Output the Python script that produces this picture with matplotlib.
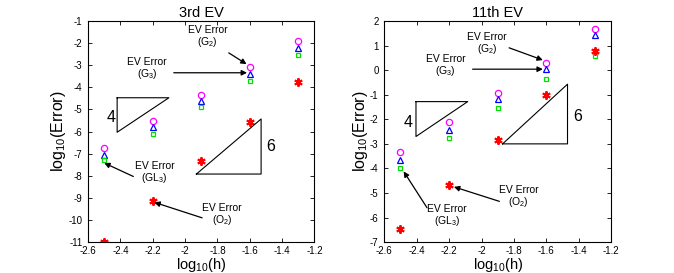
import numpy as np
import matplotlib
matplotlib.use('Agg')
import matplotlib.pyplot as plt

plt.rcParams['font.family'] = ['Liberation Sans', 'DejaVu Sans']
plt.rcParams['mathtext.fontset'] = 'custom'
plt.rcParams['mathtext.rm'] = 'Liberation Sans'
plt.rcParams['mathtext.it'] = 'Liberation Sans'

log_h = [-2.5, -2.2, -1.9, -1.6, -1.3]

# 3rd EV
ev3_g2 = [-6.75, -5.5, -4.35, -3.1, -1.9]
ev3_g3 = [-7.05, -5.8, -4.6, -3.4, -2.2]
ev3_gl3 = [-7.3, -6.1, -4.9, -3.7, -2.55]
ev3_o2 = [-11.0, -9.15, -7.35, -5.55, -3.75]

# 11th EV
ev11_g2 = [-3.35, -2.13, -0.93, 0.31, 1.66]
ev11_g3 = [-3.65, -2.43, -1.19, 0.04, 1.43]
ev11_gl3 = [-3.98, -2.77, -1.55, -0.38, 0.58]
ev11_o2 = [-6.48, -4.66, -2.86, -1.03, 0.78]

ASTER = (6, 2, 0)


def draw_panel(ax, g2, g3, gl3, o2, title, ylim, yticks):
    ax.plot(log_h, g2, 'o', mfc='none', mec='#ff00ff', ms=4.5, mew=0.9)
    ax.plot(log_h, g3, '^', mfc='none', mec='#0000ff', ms=4.5, mew=0.9)
    ax.plot(log_h, gl3, 's', mfc='none', mec='#00e000', ms=3.5, mew=0.9)
    ax.plot(log_h, o2, marker=ASTER, ls='none', mec='#ff0000', ms=6, mew=1.4)
    ax.set_xlim(-2.6, -1.2)
    ax.set_ylim(*ylim)
    ax.set_xticks(np.round(np.arange(-2.6, -1.19, 0.2), 1))
    ax.set_xticklabels(['-2.6', '-2.4', '-2.2', '-2', '-1.8', '-1.6',
                        '-1.4', '-1.2'])
    ax.set_yticks(yticks)
    ax.set_yticklabels([str(t) for t in yticks])
    ax.tick_params(direction='in', top=True, right=True, length=3,
                   width=0.6, labelsize=7, pad=4)
    ax.tick_params(axis='x', pad=2.5)
    for s in ax.spines.values():
        s.set_linewidth(0.8)
    ax.set_title(title, fontsize=10.5, pad=3)
    ax.set_xlabel('log$_{10}$(h)', fontsize=10.5, labelpad=0)
    ax.set_ylabel('log$_{10}$(Error)', fontsize=11.5, labelpad=0)


def note(ax, label, txt_xy, start, end):
    ax.text(txt_xy[0], txt_xy[1], 'EV Error\n(' + label + ')', fontsize=7.5,
            ha='center', va='center', linespacing=1.0)
    ax.annotate('', xy=end, xytext=start,
                arrowprops=dict(arrowstyle='-|>', color='black', lw=0.9,
                                mutation_scale=8, shrinkA=0, shrinkB=0))


def slope_tri(ax, pts, label, label_xy):
    xs = [p[0] for p in pts] + [pts[0][0]]
    ys = [p[1] for p in pts] + [pts[0][1]]
    ax.plot(xs, ys, 'k-', lw=0.8)
    ax.text(label_xy[0], label_xy[1], label, fontsize=11.5,
            ha='center', va='center')


fig = plt.figure(figsize=(6.74, 2.73), dpi=100)
ax1 = fig.add_axes([0.1306, 0.113, 0.336, 0.810])
ax2 = fig.add_axes([0.5700, 0.113, 0.337, 0.810])

draw_panel(ax1, ev3_g2, ev3_g3, ev3_gl3, ev3_o2, '3rd EV', (-11, -1),
           list(range(-1, -12, -1)))
slope_tri(ax1, [(-2.42, -4.47), (-2.1, -4.47), (-2.42, -6.03)], '4',
          (-2.46, -5.35))
slope_tri(ax1, [(-1.93, -7.92), (-1.53, -7.92), (-1.53, -5.43)], '6',
          (-1.47, -6.67))
note(ax1, 'G$_2$', (-1.86, -1.72), (-1.73, -2.44), (-1.62, -2.95))
note(ax1, 'G$_3$', (-2.235, -3.19), (-2.07, -3.34), (-1.617, -3.34))
note(ax1, 'GL$_3$', (-2.19, -7.87), (-2.32, -8.03), (-2.5, -7.42))
note(ax1, 'O$_2$', (-1.77, -9.75), (-1.895, -9.9), (-2.19, -9.2))

draw_panel(ax2, ev11_g2, ev11_g3, ev11_gl3, ev11_o2, '11th EV', (-7, 2),
           list(range(2, -8, -1)))
slope_tri(ax2, [(-2.404, -1.28), (-2.085, -1.28), (-2.404, -2.7)], '4',
          (-2.45, -2.12))
slope_tri(ax2, [(-1.87, -3.0), (-1.47, -3.0), (-1.47, -0.57)], '6',
          (-1.406, -1.89))
note(ax2, 'G$_2$', (-1.966, 1.08), (-1.83, 0.91), (-1.622, 0.41))
note(ax2, 'G$_3$', (-2.22, 0.16), (-2.055, 0.04), (-1.622, 0.04))
note(ax2, 'GL$_3$', (-2.213, -5.95), (-2.336, -5.6), (-2.48, -4.12))
note(ax2, 'O$_2$', (-1.77, -5.16), (-1.89, -5.34), (-2.17, -4.75))

fig.savefig('out.png', dpi=100)
